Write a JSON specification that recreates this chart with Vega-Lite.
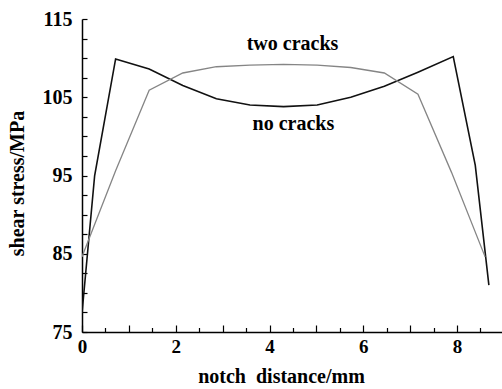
{
  "$schema": "https://vega.github.io/schema/vega-lite/v6.json",
  "width": 420,
  "height": 313,
  "autosize": {"type": "none"},
  "padding": {"left": 82, "top": 19, "right": 0, "bottom": 57},
  "background": "white",
  "config": {
    "view": {"stroke": null},
    "font": "Liberation Serif",
    "axis": {
      "grid": false,
      "domainColor": "#000000",
      "domainWidth": 1.5,
      "tickColor": "#000000",
      "tickWidth": 1.2,
      "labelColor": "#000000",
      "labelFont": "Liberation Serif",
      "labelFontWeight": "bold",
      "titleFont": "Liberation Serif",
      "titleFontWeight": "bold",
      "titleColor": "#000000",
      "titleFontSize": 20
    }
  },
  "resolve": {"axis": {"x": "independent", "y": "independent"}},
  "datasets": {
    "lines": [
      {"series": "no cracks", "x": 0, "y": 77.4},
      {"series": "no cracks", "x": 0.27, "y": 95.0},
      {"series": "no cracks", "x": 0.717, "y": 109.9},
      {"series": "no cracks", "x": 1.433, "y": 108.6},
      {"series": "no cracks", "x": 2.15, "y": 106.5},
      {"series": "no cracks", "x": 2.867, "y": 104.8},
      {"series": "no cracks", "x": 3.583, "y": 104.0},
      {"series": "no cracks", "x": 4.3, "y": 103.8},
      {"series": "no cracks", "x": 5.017, "y": 104.0},
      {"series": "no cracks", "x": 5.733, "y": 105.0},
      {"series": "no cracks", "x": 6.45, "y": 106.4},
      {"series": "no cracks", "x": 7.167, "y": 108.2},
      {"series": "no cracks", "x": 7.92, "y": 110.2},
      {"series": "no cracks", "x": 8.39, "y": 96.3},
      {"series": "no cracks", "x": 8.68, "y": 81.0},
      {"series": "two cracks", "x": 0, "y": 84.6},
      {"series": "two cracks", "x": 0.717, "y": 95.6},
      {"series": "two cracks", "x": 1.433, "y": 105.9},
      {"series": "two cracks", "x": 2.15, "y": 108.1},
      {"series": "two cracks", "x": 2.867, "y": 108.9},
      {"series": "two cracks", "x": 3.583, "y": 109.1},
      {"series": "two cracks", "x": 4.3, "y": 109.2},
      {"series": "two cracks", "x": 5.017, "y": 109.1},
      {"series": "two cracks", "x": 5.733, "y": 108.8},
      {"series": "two cracks", "x": 6.45, "y": 108.1},
      {"series": "two cracks", "x": 7.167, "y": 105.4},
      {"series": "two cracks", "x": 7.883, "y": 95.4},
      {"series": "two cracks", "x": 8.6, "y": 84.6}
    ],
    "labels": [
      {"label": "two cracks", "x": 4.49, "y": 111.1},
      {"label": "no cracks", "x": 4.51, "y": 100.8}
    ]
  },
  "layer": [
    {
      "data": {"name": "lines"},
      "mark": {"type": "line", "clip": true},
      "encoding": {
        "x": {
          "field": "x",
          "type": "quantitative",
          "scale": {"domain": [0, 8.96], "nice": false, "zero": false},
          "axis": {
            "orient": "bottom",
            "values": [0, 2, 4, 6, 8],
            "format": "~g",
            "ticks": false,
            "labelPadding": 5,
            "labelFontSize": 19,
            "labelFlush": false,
            "title": "notch\u00a0\u00a0distance/mm",
            "titleX": 199,
            "titleY": 50,
            "titleAlign": "center",
            "titleBaseline": "alphabetic"
          }
        },
        "y": {
          "field": "y",
          "type": "quantitative",
          "scale": {"domain": [75, 115], "nice": false, "zero": false},
          "axis": {
            "orient": "left",
            "values": [75, 85, 95, 105, 115],
            "ticks": false,
            "labelPadding": 10,
            "labelFontSize": 20,
            "labelFlush": false,
            "title": "shear stress/MPa",
            "titleX": -59,
            "titleY": 164,
            "titleAngle": 270,
            "titleAlign": "center",
            "titleBaseline": "alphabetic"
          }
        },
        "color": {
          "field": "series",
          "type": "nominal",
          "scale": {"domain": ["no cracks", "two cracks"], "range": ["#111111", "#858585"]},
          "legend": null
        },
        "strokeWidth": {
          "field": "series",
          "type": "nominal",
          "scale": {"domain": ["no cracks", "two cracks"], "range": [1.6, 1.3]},
          "legend": null
        }
      }
    },
    {
      "mark": {"type": "rule", "color": "#222222", "strokeWidth": 1.5},
      "encoding": {"y": {"datum": 115, "type": "quantitative", "axis": null}}
    },
    {
      "data": {"name": "labels"},
      "mark": {"type": "text", "font": "Liberation Serif", "fontWeight": "bold", "fontSize": 20, "color": "#000000", "baseline": "alphabetic"},
      "encoding": {
        "x": {
          "field": "x",
          "type": "quantitative",
          "axis": {
            "orient": "top",
            "offset": -313,
            "values": [0, 1, 2, 3, 4, 5, 6, 7, 8],
            "labels": false,
            "domain": false,
            "title": null,
            "ticks": true,
            "tickSize": 7
          }
        },
        "y": {
          "field": "y",
          "type": "quantitative",
          "axis": {
            "orient": "right",
            "offset": -420,
            "values": [75, 77.5, 80, 82.5, 85, 87.5, 90, 92.5, 95, 97.5, 100, 102.5, 105, 107.5, 110, 112.5, 115],
            "labels": false,
            "domain": false,
            "title": null,
            "ticks": true,
            "tickSize": 5
          }
        },
        "text": {"field": "label"}
      }
    },
    {
      "data": {"name": "lines"},
      "mark": {"type": "point", "opacity": 0},
      "encoding": {
        "x": {
          "field": "x",
          "type": "quantitative",
          "axis": {
            "orient": "top",
            "offset": -313,
            "values": [0.5, 1.5, 2.5, 3.5, 4.5, 5.5, 6.5, 7.5, 8.5],
            "labels": false,
            "domain": false,
            "title": null,
            "ticks": true,
            "tickSize": 4.5
          }
        },
        "y": {"field": "y", "type": "quantitative", "axis": null}
      }
    }
  ]
}
